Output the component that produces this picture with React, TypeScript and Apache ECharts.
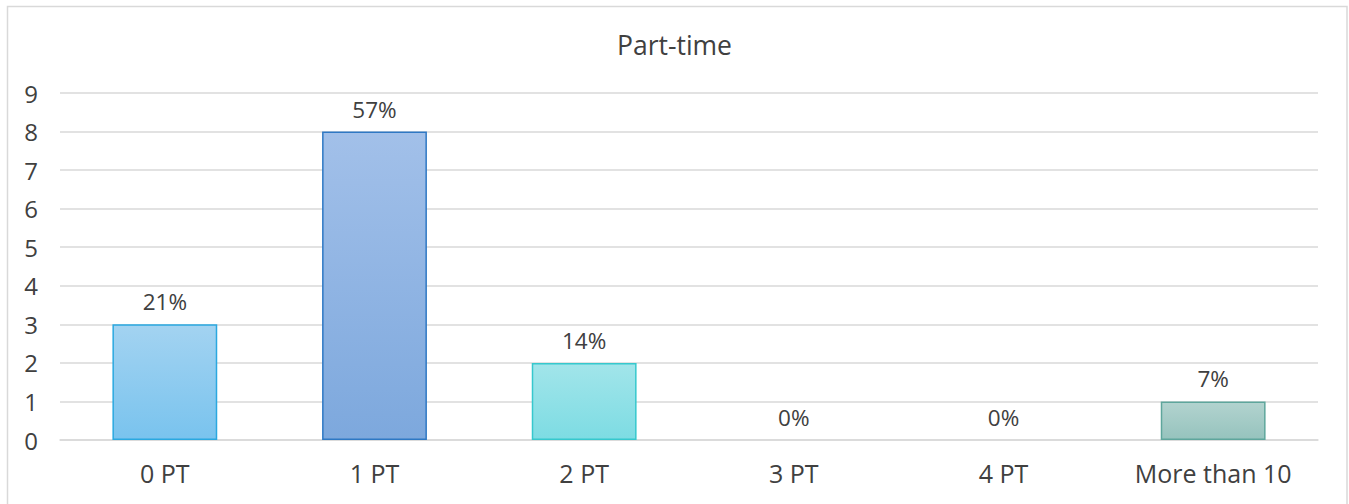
import React, { useEffect, useRef } from "react";
import * as echarts from "echarts";

const categories = ["0 PT", "1 PT", "2 PT", "3 PT", "4 PT", "More than 10"];
const counts = [3, 8, 2, 0, 0, 1];
const percentLabels = ["21%", "57%", "14%", "0%", "0%", "7%"];
const yTicks = [0, 1, 2, 3, 4, 5, 6, 7, 8, 9];

const barStyles = [
  { top: "#a3d3f1", bottom: "#79c3ee", border: "#2aa8e0" },
  { top: "#a2c0e9", bottom: "#7da8dd", border: "#2e78c4" },
  { top: "#a2e5ea", bottom: "#7ddce3", border: "#36c8cd" },
  { top: "#a2e5ea", bottom: "#7ddce3", border: "#36c8cd" },
  { top: "#a2e5ea", bottom: "#7ddce3", border: "#36c8cd" },
  { top: "#b2d3cf", bottom: "#96c3bd", border: "#5ea69c" },
];

const FONT = "'Open Sans', 'Liberation Sans', sans-serif";

export default function App() {
  const ref = useRef<HTMLDivElement>(null);
  useEffect(() => {
    if (!ref.current) return;
    const chart = echarts.init(ref.current, undefined, { renderer: "svg" });
    chart.setOption({
      animation: false,
      backgroundColor: "#ffffff",
      title: {
        text: "Part-time",
        left: "center",
        top: 26,
        textStyle: { fontFamily: FONT, fontSize: 26.5, fontWeight: "normal", color: "#404040" },
      },
      graphic: [
        {
          type: "rect",
          shape: { x: 7.5, y: 6.5, width: 1339.5, height: 510 },
          style: { fill: "none", stroke: "#d9d9d9", lineWidth: 1.5 },
          silent: true,
        },
      ],
      grid: { left: 60, right: 31, top: 93, bottom: 64, containLabel: false },
      xAxis: {
        type: "category",
        data: categories,
        axisLine: { show: true, lineStyle: { color: "#d9d9d9", width: 1.5 } },
        axisTick: { show: false },
        axisLabel: { fontFamily: FONT, fontSize: 25, color: "#404040", margin: 20 },
      },
      yAxis: {
        type: "value",
        min: yTicks[0],
        max: yTicks[yTicks.length - 1],
        interval: 1,
        axisLine: { show: false },
        axisTick: { show: false },
        splitLine: { lineStyle: { color: "#d9d9d9", width: 1.5 } },
        axisLabel: { fontFamily: FONT, fontSize: 24, color: "#404040", margin: 22 },
      },
      series: [
        {
          type: "bar",
          barWidth: "50%",
          data: counts.map((v, i) => ({
            value: v,
            itemStyle: {
              color: new echarts.graphic.LinearGradient(0, 0, 0, 1, [
                { offset: 0, color: barStyles[i].top },
                { offset: 1, color: barStyles[i].bottom },
              ]),
              borderColor: barStyles[i].border,
              borderWidth: v > 0 ? 1.5 : 0,
            },
          })),
          label: {
            show: true,
            position: "top",
            distance: 11,
            fontFamily: FONT,
            fontSize: 22.5,
            color: "#404040",
            formatter: (p: any) => percentLabels[p.dataIndex],
          },
        },
      ],
    });
    return () => chart.dispose();
  }, []);
  return (
    <div
      ref={ref}
      style={{ position: "absolute", left: 0, top: 0, width: 1349, height: 504 }}
    />
  );
}
